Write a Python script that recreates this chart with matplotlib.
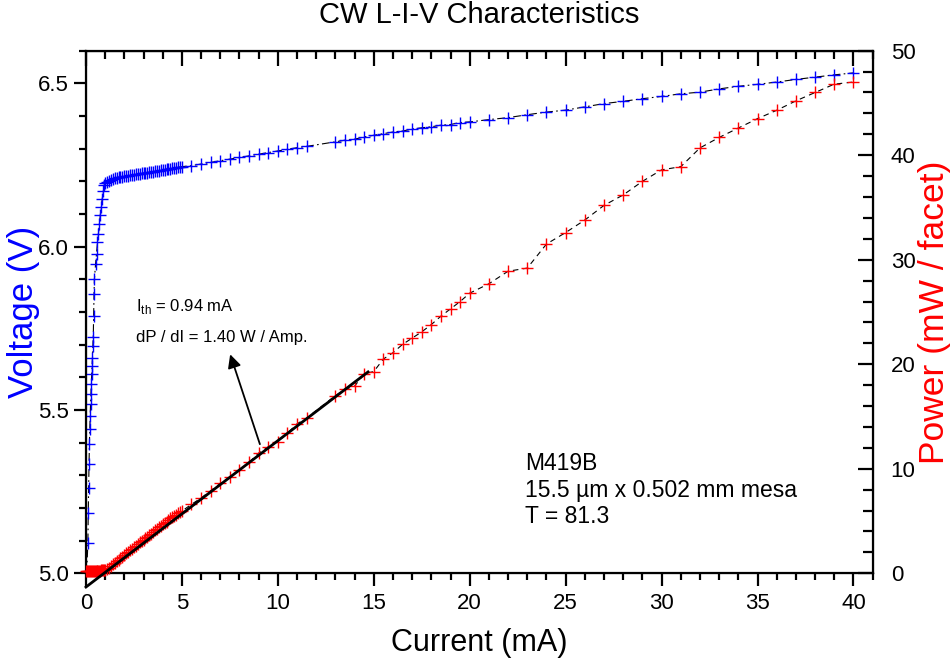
import numpy as np
import matplotlib
matplotlib.use('Agg')
import matplotlib.pyplot as plt
from matplotlib.ticker import MultipleLocator

plt.rcParams['font.family'] = ['Liberation Sans', 'DejaVu Sans']
plt.rcParams['mathtext.fontset'] = 'custom'
plt.rcParams['mathtext.rm'] = 'Liberation Sans'

# ---- data ----
# voltage sweep (sub-threshold, then shared grid with power)
i_sub_v = [0.00, 0.10, 0.12, 0.14, 0.16, 0.18, 0.20, 0.22, 0.24, 0.26, 0.28, 0.30, 0.32, 0.34,
           0.36, 0.38, 0.40, 0.42, 0.44, 0.50, 0.55, 0.60, 0.65, 0.70, 0.75, 0.80, 0.85, 0.90, 0.95]
v_sub = [4.95, 5.092, 5.186, 5.262, 5.336, 5.397, 5.442, 5.482, 5.519, 5.549, 5.580, 5.610, 5.635,
         5.659, 5.696, 5.723, 5.787, 5.854, 5.900, 5.946, 5.979, 6.013, 6.040, 6.068, 6.098, 6.122,
         6.147, 6.171, 6.189]

# light output below threshold
i_sub_p = [0.00, 0.05, 0.10, 0.15, 0.20, 0.25, 0.30, 0.35, 0.40, 0.45, 0.50, 0.55, 0.60, 0.65,
           0.70, 0.75, 0.80, 0.85, 0.90, 0.95]
p_sub = [0.2, 0.2, 0.2, 0.2, 0.2, 0.2, 0.2, 0.2, 0.2, 0.2, 0.2, 0.2, 0.2, 0.2,
         0.25, 0.25, 0.3, 0.3, 0.3, 0.3]

# above threshold: current grid shared by V and P
current = [1.0, 1.1, 1.2, 1.3, 1.4, 1.5, 1.6, 1.7, 1.8, 1.9, 2.0, 2.1, 2.2, 2.3, 2.4, 2.5, 2.6, 2.7,
           2.8, 2.9, 3.0, 3.1, 3.2, 3.3, 3.4, 3.5, 3.6, 3.7, 3.8, 3.9, 4.0, 4.1, 4.2, 4.3, 4.4, 4.5,
           4.6, 4.7, 4.8, 4.9, 5.0,
           5.5, 6.0, 6.5, 7.0, 7.5, 8.0, 8.5, 9.0, 9.5, 10.0, 10.5, 11.0, 11.5,
           13.0, 13.5, 14.0, 14.5, 15.0, 15.5, 16.0, 16.5, 17.0, 17.5, 18.0, 18.5, 19.0, 19.5, 20.0,
           21, 22, 23, 24, 25, 26, 27, 28, 29, 30, 31, 32, 33, 34, 35, 36, 37, 38, 39, 40]
voltage = [6.195, 6.199, 6.202, 6.205, 6.207, 6.209, 6.211, 6.212, 6.213, 6.214, 6.215, 6.216,
           6.217, 6.218, 6.219, 6.220, 6.221, 6.222, 6.223, 6.224, 6.225, 6.226, 6.227, 6.228,
           6.229, 6.230, 6.231, 6.232, 6.233, 6.234, 6.235, 6.236, 6.237, 6.238, 6.239, 6.240,
           6.241, 6.242, 6.243, 6.244, 6.245,
           6.248, 6.253, 6.258, 6.263, 6.268, 6.273, 6.278, 6.283, 6.288, 6.293, 6.298, 6.303, 6.307,
           6.321, 6.326, 6.329, 6.336, 6.341, 6.346, 6.351, 6.354, 6.360, 6.364, 6.367, 6.372,
           6.374, 6.380, 6.382,
           6.389, 6.395, 6.404, 6.412, 6.418, 6.428, 6.438, 6.445, 6.453, 6.460, 6.468, 6.473,
           6.483, 6.491, 6.497, 6.504, 6.512, 6.519, 6.526, 6.532]
power = [0.3, 0.4, 0.55, 0.7, 0.85, 1.0, 1.15, 1.3, 1.45, 1.6, 1.75, 1.9, 2.05, 2.2, 2.35, 2.5,
         2.65, 2.8, 2.95, 3.1, 3.2, 3.35, 3.5, 3.65, 3.8, 3.95, 4.1, 4.25, 4.4, 4.55, 4.7, 4.8,
         4.95, 5.1, 5.25, 5.4, 5.5, 5.6, 5.75, 5.85, 5.95,
         6.6, 7.2, 7.9, 8.6, 9.2, 9.9, 10.6, 11.5, 12.1, 12.6, 13.4, 14.3, 14.85,
         17.0, 17.6, 17.9, 19.1, 19.3, 20.5, 21.1, 21.9, 22.5, 23.1, 23.8, 24.6, 25.3, 26.0, 26.8,
         27.7, 28.9, 29.2, 31.5, 32.6, 33.8, 35.2, 36.2, 37.5, 38.6, 38.9, 40.7, 41.7, 42.6, 43.5,
         44.3, 45.2, 46.0, 46.8, 47.0]

# linear fit shown on the plot
i_th = 0.94        # mA
slope = 1.40       # mW / mA
fit_end = 14.7     # mA

# ---- figure ----
fig = plt.figure(figsize=(9.53, 6.6), dpi=100)
ax = fig.add_axes([0.0902, 0.1314, 0.8255, 0.7918])
ax2 = ax.twinx()

iv = i_sub_v + current
vv = v_sub + voltage
ip = i_sub_p + current
pp = p_sub + power

ax.plot(iv, vv, color='k', lw=0.8, ls=(0, (7, 3, 1.5, 3)), zorder=2)
ax.plot(iv, vv, ls='none', marker='+', ms=8, mew=1.0, color='#0000ff', zorder=3)

ax2.plot(ip, pp, color='k', lw=0.8, ls=(0, (5, 4)), zorder=2)
ax2.plot(ip, pp, ls='none', marker='+', ms=8, mew=1.0, color='#ff0000', zorder=3, clip_on=False)
ax2.plot([0, fit_end], [slope * (0 - i_th), slope * (fit_end - i_th)], color='k', lw=2.0,
         zorder=4, clip_on=False)

ax.set_xlim(0, 41.0)
ax.set_ylim(5.0, 6.6)
ax2.set_ylim(0, 50)

for s in ax.spines.values():
    s.set_linewidth(1.6)
ax.xaxis.set_major_locator(MultipleLocator(5))
ax.xaxis.set_minor_locator(MultipleLocator(1))
ax.yaxis.set_major_locator(MultipleLocator(0.5))
ax.yaxis.set_minor_locator(MultipleLocator(0.1))
ax.yaxis.set_major_formatter(matplotlib.ticker.FormatStrFormatter('%.1f'))
ax2.yaxis.set_major_locator(MultipleLocator(10))
ax2.yaxis.set_minor_locator(MultipleLocator(2))

ax.tick_params(axis='both', which='major', direction='out', length=9, width=1.6, labelsize=16)
ax.tick_params(axis='both', which='minor', direction='out', length=5, width=1.6)
ax.tick_params(axis='x', pad=5)
ax.tick_params(axis='y', right=False)
ax2.tick_params(axis='y', which='major', direction='in', length=11, width=1.6, labelsize=16,
                left=False, pad=13)
ax2.tick_params(axis='y', which='minor', direction='in', length=7, width=1.6, left=False)

top = ax.secondary_xaxis('top')
top.xaxis.set_major_locator(MultipleLocator(5))
top.xaxis.set_minor_locator(MultipleLocator(1))
top.tick_params(which='major', direction='in', length=11, width=1.6, labeltop=False)
top.tick_params(which='minor', direction='in', length=6, width=1.6)

ax.set_xlabel('Current (mA)', fontsize=22, labelpad=10)
ax.set_ylabel('Voltage (V)', fontsize=25, color='#0000ff')
ax.yaxis.set_label_coords(-0.058, 0.5)
ax2.set_ylabel('Power (mW / facet)', fontsize=25.5, color='#ff0000', labelpad=2)
ax.set_title('CW L-I-V Characteristics', fontsize=21, pad=20)

ax.text(0.064, 0.51, r'I$_{\rm th}$ = 0.94 mA', transform=ax.transAxes, fontsize=12, va='center')
ax.text(0.064, 0.452, 'dP / dI = 1.40 W / Amp.', transform=ax.transAxes, fontsize=12, va='center')
ax2.annotate('', xy=(7.47, 21.2), xytext=(9.11, 12.1),
             arrowprops=dict(arrowstyle='-|>', color='k', lw=1.3, mutation_scale=20))

ax.text(0.558, 0.232, 'M419B\n15.5 \u00b5m x 0.502 mm mesa\nT = 81.3', transform=ax.transAxes,
        fontsize=16.5, va='top', ha='left', linespacing=1.2)

fig.savefig('out.png', dpi=100)
